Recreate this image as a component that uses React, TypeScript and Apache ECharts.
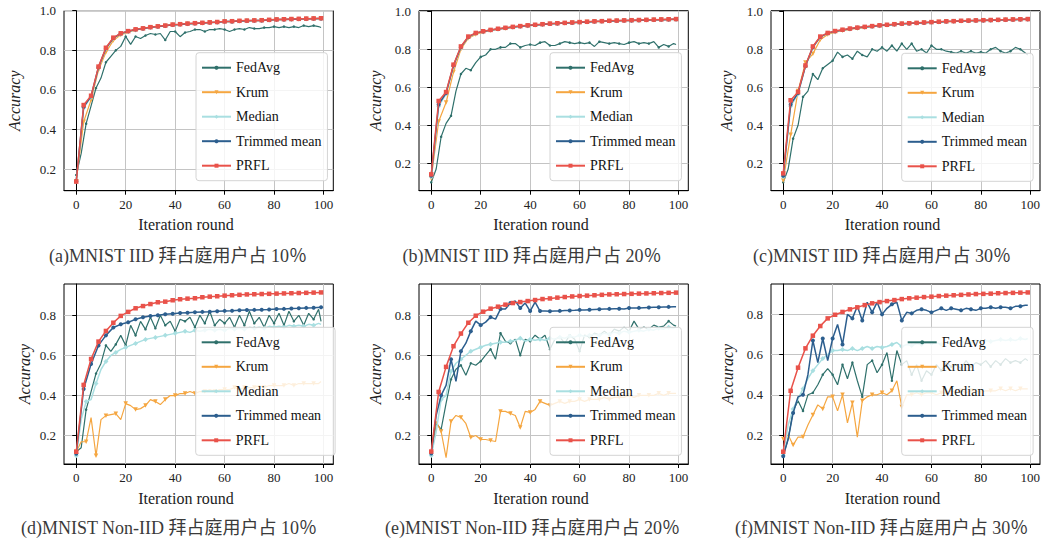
import React, { useEffect, useRef } from "react";
import * as echarts from "echarts";

// ---- iteration rounds ----
const X3 = [0, 3, 6, 9, 12, 15, 18, 21, 24, 27, 30, 33, 36, 39, 42, 45, 48, 51, 54, 57, 60, 63, 66, 69, 72, 75, 78, 81, 84, 87, 90, 93, 96, 99];
const X2 = [0, 2, 4, 6, 8, 10, 12, 14, 16, 18, 20, 22, 24, 26, 28, 30, 32, 34, 36, 38, 40, 42, 44, 46, 48, 50, 52, 54, 56, 58, 60, 62, 64, 66, 68, 70, 72, 74, 76, 78, 80, 82, 84, 86, 88, 90, 92, 94, 96, 98, 99];

const X_TICKS = [0, 20, 40, 60, 80, 100];
const Y_TICKS_TOP = [0.2, 0.4, 0.6, 0.8, 1.0];
const Y_TICKS_BOTTOM = [0.2, 0.4, 0.6, 0.8];

const METHODS = ["FedAvg", "Krum", "Median", "Trimmed mean", "PRFL"];

const CAPTIONS = [
  "(a)MNIST IID 拜占庭用户占 10％",
  "(b)MNIST IID 拜占庭用户占 20％",
  "(c)MNIST IID 拜占庭用户占 30％",
  "(d)MNIST Non-IID 拜占庭用户占 10％",
  "(e)MNIST Non-IID 拜占庭用户占 20％",
  "(f)MNIST Non-IID 拜占庭用户占 30％",
];

// ---- (a) MNIST IID 10% ----
const aFedAvg = [
  0.171, 0.28, 0.43, 0.52, 0.61, 0.66, 0.74, 0.77, 0.8, 0.82,
  0.87, 0.83, 0.87, 0.86, 0.875, 0.885, 0.88, 0.885, 0.852, 0.895,
  0.895, 0.869, 0.89, 0.895, 0.905, 0.905, 0.895, 0.905, 0.905, 0.91,
  0.905, 0.895, 0.905, 0.91, 0.905, 0.915, 0.91, 0.91, 0.915, 0.915,
  0.92, 0.915, 0.92, 0.915, 0.92, 0.915, 0.925, 0.92, 0.925, 0.92,
  0.915,
];
const aKrum = [0.14, 0.44, 0.55, 0.7, 0.79, 0.85, 0.878, 0.892, 0.902, 0.909, 0.915, 0.919, 0.923, 0.928, 0.93, 0.933, 0.935, 0.937, 0.94, 0.942, 0.944, 0.945, 0.947, 0.948, 0.949, 0.95, 0.952, 0.954, 0.955, 0.956, 0.957, 0.958, 0.959, 0.96];
const aMedian = [0.14, 0.51, 0.565, 0.712, 0.808, 0.861, 0.884, 0.895, 0.904, 0.91, 0.916, 0.92, 0.924, 0.929, 0.931, 0.934, 0.936, 0.938, 0.94, 0.942, 0.945, 0.946, 0.948, 0.949, 0.95, 0.951, 0.953, 0.955, 0.956, 0.957, 0.958, 0.959, 0.96, 0.961];
const aTrimmed = [0.14, 0.515, 0.568, 0.715, 0.81, 0.862, 0.885, 0.896, 0.905, 0.91, 0.916, 0.92, 0.924, 0.929, 0.931, 0.934, 0.936, 0.938, 0.94, 0.942, 0.945, 0.946, 0.948, 0.949, 0.95, 0.951, 0.953, 0.955, 0.956, 0.957, 0.958, 0.959, 0.96, 0.961];
const aPRFL = [0.138, 0.524, 0.571, 0.718, 0.813, 0.864, 0.886, 0.897, 0.906, 0.911, 0.917, 0.921, 0.925, 0.93, 0.932, 0.935, 0.937, 0.939, 0.941, 0.943, 0.946, 0.947, 0.949, 0.95, 0.951, 0.952, 0.954, 0.956, 0.957, 0.958, 0.959, 0.96, 0.961, 0.962];

// ---- (b) MNIST IID 20% ----
const bFedAvg = [
  0.1, 0.17, 0.34, 0.41, 0.45, 0.58, 0.67, 0.7, 0.69, 0.73,
  0.76, 0.77, 0.8, 0.8, 0.81, 0.81, 0.83, 0.83, 0.81, 0.82,
  0.825, 0.82, 0.835, 0.84, 0.82, 0.82, 0.83, 0.84, 0.835, 0.83,
  0.835, 0.83, 0.835, 0.815, 0.84, 0.835, 0.83, 0.835, 0.83, 0.825,
  0.835, 0.84, 0.83, 0.835, 0.83, 0.84, 0.81, 0.825, 0.815, 0.83,
  0.825,
];
const bKrum = [0.12, 0.42, 0.52, 0.68, 0.8, 0.858, 0.878, 0.89, 0.898, 0.905, 0.91, 0.915, 0.919, 0.923, 0.927, 0.93, 0.933, 0.935, 0.937, 0.939, 0.941, 0.943, 0.945, 0.946, 0.948, 0.949, 0.95, 0.951, 0.952, 0.953, 0.954, 0.955, 0.956, 0.957];
const bMedian = [0.13, 0.5, 0.565, 0.712, 0.81, 0.864, 0.884, 0.893, 0.9, 0.906, 0.912, 0.916, 0.92, 0.924, 0.928, 0.931, 0.934, 0.936, 0.938, 0.94, 0.942, 0.944, 0.946, 0.947, 0.949, 0.95, 0.951, 0.952, 0.953, 0.954, 0.955, 0.956, 0.957, 0.958];
const bTrimmed = [0.135, 0.51, 0.57, 0.715, 0.812, 0.865, 0.885, 0.894, 0.901, 0.907, 0.912, 0.917, 0.921, 0.925, 0.928, 0.931, 0.934, 0.936, 0.938, 0.94, 0.942, 0.944, 0.946, 0.947, 0.949, 0.95, 0.951, 0.952, 0.953, 0.954, 0.955, 0.956, 0.957, 0.958];
const bPRFL = [0.142, 0.528, 0.575, 0.719, 0.815, 0.867, 0.886, 0.895, 0.902, 0.908, 0.913, 0.918, 0.922, 0.926, 0.929, 0.932, 0.935, 0.937, 0.939, 0.941, 0.943, 0.945, 0.947, 0.948, 0.95, 0.951, 0.952, 0.953, 0.954, 0.955, 0.956, 0.957, 0.958, 0.959];

// ---- (c) MNIST IID 30% ----
const cFedAvg = [
  0.1, 0.17, 0.33, 0.4, 0.55, 0.58, 0.67, 0.64, 0.7, 0.72,
  0.74, 0.785, 0.76, 0.77, 0.75, 0.79, 0.77, 0.76, 0.8, 0.79,
  0.81, 0.79, 0.82, 0.79, 0.83, 0.8, 0.83, 0.79, 0.8, 0.78,
  0.82, 0.8, 0.8, 0.79, 0.785, 0.78, 0.79, 0.78, 0.79, 0.78,
  0.785, 0.78, 0.8, 0.81, 0.79, 0.78, 0.79, 0.81, 0.8, 0.78,
  0.77,
];
const cKrum = [0.11, 0.35, 0.58, 0.73, 0.776, 0.85, 0.878, 0.89, 0.898, 0.905, 0.91, 0.913, 0.919, 0.923, 0.927, 0.93, 0.933, 0.935, 0.937, 0.939, 0.941, 0.943, 0.945, 0.946, 0.948, 0.949, 0.95, 0.951, 0.952, 0.953, 0.954, 0.955, 0.956, 0.957];
const cMedian = [0.13, 0.5, 0.565, 0.71, 0.81, 0.863, 0.884, 0.894, 0.901, 0.907, 0.912, 0.916, 0.92, 0.924, 0.928, 0.931, 0.934, 0.936, 0.938, 0.94, 0.942, 0.944, 0.946, 0.947, 0.949, 0.95, 0.951, 0.952, 0.953, 0.954, 0.955, 0.956, 0.957, 0.958];
const cTrimmed = [0.135, 0.51, 0.57, 0.712, 0.812, 0.865, 0.885, 0.895, 0.902, 0.908, 0.913, 0.917, 0.921, 0.925, 0.928, 0.931, 0.934, 0.936, 0.938, 0.94, 0.942, 0.944, 0.946, 0.947, 0.949, 0.95, 0.951, 0.952, 0.953, 0.954, 0.955, 0.956, 0.957, 0.958];
const cPRFL = [0.147, 0.532, 0.575, 0.715, 0.815, 0.867, 0.886, 0.896, 0.903, 0.909, 0.914, 0.918, 0.922, 0.926, 0.929, 0.932, 0.935, 0.937, 0.939, 0.941, 0.943, 0.945, 0.947, 0.948, 0.95, 0.951, 0.952, 0.953, 0.954, 0.955, 0.956, 0.957, 0.958, 0.959];

// ---- (d) MNIST Non-IID 10% ----
const dFedAvg = [
  0.12, 0.14, 0.33, 0.42, 0.51, 0.56, 0.65, 0.62, 0.655, 0.7,
  0.65, 0.75, 0.7, 0.77, 0.73, 0.79, 0.735, 0.8, 0.75, 0.77,
  0.72, 0.78, 0.77, 0.79, 0.74, 0.8, 0.76, 0.82, 0.75, 0.78,
  0.76, 0.79, 0.74, 0.8, 0.75, 0.82, 0.76, 0.79, 0.74, 0.8,
  0.76, 0.81, 0.75, 0.82, 0.77, 0.8, 0.75, 0.81, 0.78, 0.83,
  0.77,
];
const dKrum = [
  0.12, 0.17, 0.17, 0.29, 0.1, 0.28, 0.3, 0.305, 0.31, 0.28,
  0.36, 0.35, 0.33, 0.335, 0.35, 0.38, 0.37, 0.355, 0.38, 0.4,
  0.4, 0.41, 0.41, 0.42, 0.41, 0.42, 0.42, 0.43, 0.42, 0.43,
  0.43, 0.43, 0.44, 0.43, 0.44, 0.44, 0.44, 0.45, 0.44, 0.45,
  0.45, 0.45, 0.45, 0.46, 0.45, 0.46, 0.46, 0.46, 0.46, 0.46,
  0.47,
];
const dMedian = [
  0.1, 0.28, 0.37, 0.38, 0.46, 0.53, 0.57, 0.6, 0.615, 0.63,
  0.64, 0.65, 0.66, 0.67, 0.68, 0.685, 0.69, 0.695, 0.7, 0.705,
  0.71, 0.715, 0.72, 0.715, 0.725, 0.72, 0.725, 0.73, 0.725, 0.73,
  0.725, 0.735, 0.73, 0.735, 0.73, 0.74, 0.735, 0.74, 0.735, 0.745,
  0.74, 0.745, 0.74, 0.75, 0.745, 0.75, 0.745, 0.755, 0.75, 0.76,
  0.755,
];
const dTrimmed = [0.11, 0.433, 0.557, 0.65, 0.7, 0.739, 0.755, 0.765, 0.78, 0.79, 0.797, 0.8, 0.805, 0.808, 0.811, 0.813, 0.815, 0.817, 0.818, 0.82, 0.822, 0.823, 0.825, 0.826, 0.827, 0.828, 0.829, 0.831, 0.832, 0.834, 0.835, 0.837, 0.838, 0.84];
const dPRFL = [0.12, 0.453, 0.582, 0.669, 0.722, 0.763, 0.797, 0.817, 0.835, 0.846, 0.856, 0.865, 0.868, 0.875, 0.88, 0.883, 0.885, 0.89, 0.893, 0.895, 0.898, 0.9, 0.902, 0.904, 0.905, 0.906, 0.907, 0.908, 0.909, 0.91, 0.911, 0.912, 0.913, 0.914];

// ---- (e) MNIST Non-IID 20% ----
const eFedAvg = [
  0.1, 0.26, 0.23, 0.36, 0.48, 0.53, 0.55, 0.5, 0.56, 0.55,
  0.57, 0.6, 0.63, 0.58, 0.71, 0.67, 0.66, 0.68, 0.6, 0.68,
  0.67, 0.7, 0.68, 0.7, 0.63, 0.68, 0.69, 0.66, 0.7, 0.68,
  0.62, 0.7, 0.69, 0.71, 0.7, 0.72, 0.7, 0.73, 0.72, 0.74,
  0.72, 0.77, 0.73, 0.74, 0.73, 0.75, 0.74, 0.745, 0.77, 0.75,
  0.745,
];
const eKrum = [
  0.11, 0.27, 0.22, 0.09, 0.27, 0.3, 0.29, 0.26, 0.19, 0.2,
  0.18, 0.18, 0.175, 0.17, 0.32, 0.32, 0.31, 0.3, 0.24, 0.32,
  0.315, 0.33, 0.37, 0.36, 0.35, 0.36, 0.37, 0.36, 0.37, 0.37,
  0.38, 0.37, 0.38, 0.38, 0.38, 0.39, 0.38, 0.39, 0.39, 0.39,
  0.4, 0.39, 0.4, 0.4, 0.4, 0.4, 0.41, 0.4, 0.41, 0.41,
  0.41,
];
const eMedian = [
  0.1, 0.22, 0.38, 0.4, 0.52, 0.56, 0.58, 0.6, 0.62, 0.63,
  0.64, 0.65, 0.655, 0.66, 0.665, 0.665, 0.67, 0.675, 0.685, 0.67,
  0.68, 0.675, 0.68, 0.675, 0.685, 0.68, 0.69, 0.685, 0.695, 0.69,
  0.7, 0.695, 0.7, 0.705, 0.7, 0.71, 0.705, 0.715, 0.71, 0.72,
  0.715, 0.72, 0.725, 0.72, 0.73, 0.725, 0.735, 0.73, 0.74, 0.735,
  0.74,
];
const eTrimmed = [
  0.11, 0.3, 0.4, 0.45, 0.58, 0.47, 0.62, 0.66, 0.72, 0.77,
  0.75, 0.765, 0.79, 0.78, 0.83, 0.83, 0.86, 0.87, 0.835, 0.86,
  0.82, 0.865, 0.82, 0.82, 0.819, 0.82, 0.821, 0.823, 0.823, 0.824,
  0.826, 0.826, 0.827, 0.828, 0.829, 0.83, 0.831, 0.832, 0.832, 0.83,
  0.835, 0.836, 0.836, 0.837, 0.838, 0.839, 0.839, 0.84, 0.841, 0.842,
  0.842,
];
const ePRFL = [0.12, 0.417, 0.542, 0.645, 0.708, 0.762, 0.797, 0.817, 0.832, 0.842, 0.852, 0.86, 0.865, 0.87, 0.875, 0.88, 0.883, 0.887, 0.89, 0.893, 0.895, 0.897, 0.899, 0.901, 0.903, 0.904, 0.905, 0.906, 0.907, 0.908, 0.909, 0.91, 0.911, 0.912];

// ---- (f) MNIST Non-IID 30% ----
const fFedAvg = [
  0.1, 0.18, 0.32, 0.37, 0.32, 0.4, 0.41, 0.45, 0.5, 0.53,
  0.5, 0.45, 0.55, 0.48, 0.56, 0.47, 0.39, 0.55, 0.57, 0.51,
  0.55, 0.61, 0.47, 0.62, 0.55, 0.57, 0.5, 0.55, 0.47, 0.52,
  0.5, 0.55, 0.52, 0.56, 0.54, 0.55, 0.53, 0.57, 0.54, 0.56,
  0.55, 0.57, 0.54, 0.57, 0.55, 0.58, 0.56, 0.57, 0.56, 0.58,
  0.57,
];
const fKrum = [
  0.18, 0.2, 0.15, 0.19, 0.19, 0.25, 0.3, 0.35, 0.33, 0.39,
  0.39, 0.32, 0.4, 0.26, 0.36, 0.19, 0.37, 0.39, 0.4, 0.4,
  0.41, 0.4, 0.42, 0.47, 0.34, 0.4, 0.4, 0.41, 0.4, 0.41,
  0.41, 0.4, 0.41, 0.41, 0.42, 0.41, 0.42, 0.41, 0.42, 0.42,
  0.41, 0.42, 0.42, 0.42, 0.43, 0.42, 0.43, 0.42, 0.43, 0.43,
  0.43,
];
const fMedian = [
  0.1, 0.25, 0.33, 0.38, 0.43, 0.48, 0.52, 0.55, 0.58, 0.6,
  0.62, 0.62, 0.625, 0.62, 0.63, 0.62, 0.63, 0.64, 0.63, 0.64,
  0.635, 0.64, 0.65, 0.66, 0.64, 0.65, 0.645, 0.655, 0.65, 0.66,
  0.655, 0.66, 0.65, 0.66, 0.655, 0.665, 0.66, 0.665, 0.66, 0.67,
  0.665, 0.67, 0.665, 0.67, 0.675, 0.67, 0.675, 0.67, 0.68, 0.675,
  0.68,
];
const fTrimmed = [
  0.095, 0.18, 0.31, 0.39, 0.4, 0.5, 0.67, 0.56, 0.68, 0.57,
  0.68, 0.75, 0.65, 0.8, 0.78, 0.84, 0.77, 0.86, 0.81, 0.86,
  0.8, 0.83, 0.85, 0.86, 0.77, 0.81, 0.805, 0.82, 0.825, 0.82,
  0.81, 0.82, 0.83, 0.82, 0.83, 0.825, 0.82, 0.83, 0.825, 0.82,
  0.83, 0.83, 0.835, 0.83, 0.835, 0.835, 0.83, 0.84, 0.84, 0.845,
  0.845,
];
const fPRFL = [0.117, 0.42, 0.535, 0.631, 0.694, 0.742, 0.78, 0.798, 0.812, 0.825, 0.835, 0.846, 0.855, 0.861, 0.866, 0.871, 0.876, 0.88, 0.883, 0.886, 0.888, 0.891, 0.893, 0.895, 0.897, 0.899, 0.901, 0.902, 0.903, 0.905, 0.906, 0.907, 0.908, 0.909];

// [x-values, y-values] for each method in each panel
const PANEL_DATA: [number[], number[]][][] = [
  [[X2, aFedAvg], [X3, aKrum], [X3, aMedian], [X3, aTrimmed], [X3, aPRFL]],
  [[X2, bFedAvg], [X3, bKrum], [X3, bMedian], [X3, bTrimmed], [X3, bPRFL]],
  [[X2, cFedAvg], [X3, cKrum], [X3, cMedian], [X3, cTrimmed], [X3, cPRFL]],
  [[X2, dFedAvg], [X2, dKrum], [X2, dMedian], [X3, dTrimmed], [X3, dPRFL]],
  [[X2, eFedAvg], [X2, eKrum], [X2, eMedian], [X2, eTrimmed], [X3, ePRFL]],
  [[X2, fFedAvg], [X2, fKrum], [X2, fMedian], [X2, fTrimmed], [X3, fPRFL]],
];

// ---- layout & styles ----
const LAYOUT = [
  { left: 64, top: 10.7, width: 269.3, ymin: 0.092, ymax: 1.0, yt: Y_TICKS_TOP, lg: [196, 52.7], lgPadR: 6, acc: [14, 100.7], xt: [186, 224], cap: [178, 256] },
  { left: 419, top: 10.7, width: 269.3, ymin: 0.056, ymax: 1.003, yt: Y_TICKS_TOP, lg: [550, 52.7], lgPadR: 6, acc: [375, 100.7], xt: [541, 224], cap: [532, 256] },
  { left: 771, top: 10.7, width: 269, ymin: 0.056, ymax: 1.003, yt: Y_TICKS_TOP, lg: [901.7, 53.3], lgPadR: 6, acc: [726, 100.7], xt: [892.5, 224], cap: [882, 256] },
  { left: 64, top: 284, width: 269.3, ymin: 0.059, ymax: 0.956, yt: Y_TICKS_BOTTOM, lg: [195.7, 327.3], lgPadR: 14, acc: [24, 374], xt: [186, 498.7], cap: [169, 528] },
  { left: 419, top: 284, width: 269.3, ymin: 0.058, ymax: 0.955, yt: Y_TICKS_BOTTOM, lg: [550, 327.3], lgPadR: 6, acc: [375, 374], xt: [541, 498.7], cap: [532.5, 528] },
  { left: 771, top: 284, width: 269, ymin: 0.056, ymax: 0.951, yt: Y_TICKS_BOTTOM, lg: [901.7, 327.3], lgPadR: 6, acc: [727, 374], xt: [892.5, 498.7], cap: [881.7, 528] },
];
const GRID_H = 180;

const STYLE: Record<string, { color: string; symbol: string; size: number; rotate?: number; width: number }> = {
  FedAvg: { color: "#2f706b", symbol: "circle", size: 2.5, width: 1.2 },
  Krum: { color: "#f5a640", symbol: "triangle", size: 4.5, rotate: 180, width: 1.2 },
  Median: { color: "#a9dfe1", symbol: "diamond", size: 5, width: 1.5 },
  "Trimmed mean": { color: "#2c5e8e", symbol: "circle", size: 4, width: 1.5 },
  PRFL: { color: "#e9524a", symbol: "rect", size: 4.5, width: 1.5 },
};

const SERIF = '"Liberation Serif", "Noto Sans CJK SC", serif';

function lineData(xs: number[], ys: number[]) {
  const dense = xs === X2;
  return xs.map((x, i) => {
    const marked = dense ? x % 4 === 0 : true;
    return marked ? [x, ys[i]] : { value: [x, ys[i]], symbol: "none" };
  });
}

function buildOption() {
  const grid: any[] = [];
  const xAxis: any[] = [];
  const yAxis: any[] = [];
  const legend: any[] = [];
  const series: any[] = [];
  const graphic: any[] = [];

  LAYOUT.forEach((L, p) => {
    grid.push({
      left: L.left, top: L.top, width: L.width, height: GRID_H,
      show: true, borderColor: "#000", borderWidth: 1, backgroundColor: "transparent",
      containLabel: false,
    });
    xAxis.push({
      type: "value", gridIndex: p, min: -4.95, max: 103.95,
      axisLine: { show: true, lineStyle: { color: "#000", width: 1 } },
      axisTick: { show: true, inside: false, length: 4, lineStyle: { color: "#000" }, customValues: X_TICKS },
      axisLabel: { customValues: X_TICKS, margin: 7, fontSize: 13, color: "#222", fontFamily: SERIF },
      splitLine: { show: true, lineStyle: { color: "#c4c4c4", width: 1 } },
    });
    yAxis.push({
      type: "value", gridIndex: p, min: L.ymin, max: L.ymax,
      axisLine: { show: true, lineStyle: { color: "#000", width: 1 } },
      axisTick: { show: true, inside: false, length: 4, lineStyle: { color: "#000" }, customValues: L.yt },
      axisLabel: {
        customValues: L.yt, margin: 8, fontSize: 13, color: "#222", fontFamily: SERIF,
        formatter: (v: number) => v.toFixed(1),
      },
      splitLine: { show: true, lineStyle: { color: "#c4c4c4", width: 1 } },
    });
    legend.push({
      orient: "vertical", left: L.lg[0], top: L.lg[1],
      data: METHODS, selectedMode: false,
      padding: [8, L.lgPadR, 8, 5], itemWidth: 29, itemHeight: 5, itemGap: 10.5,
      backgroundColor: "rgba(255,255,255,0.82)", borderColor: "#d4d4d4", borderWidth: 1, borderRadius: 3,
      textStyle: { fontFamily: SERIF, fontSize: 14, color: "#111", lineHeight: 14 },
    });
    METHODS.forEach((m, k) => {
      const [xs, ys] = PANEL_DATA[p][k];
      const s = STYLE[m];
      series.push({
        type: "line", name: m, xAxisIndex: p, yAxisIndex: p,
        data: lineData(xs, ys),
        symbol: s.symbol, symbolSize: s.size, symbolRotate: s.rotate || 0,
        showSymbol: true, showAllSymbol: true,
        lineStyle: { color: s.color, width: s.width },
        itemStyle: { color: s.color },
        emphasis: { disabled: true },
        z: 2 + k * 0.1,
      });
    });
    graphic.push({
      type: "text", x: L.acc[0], y: L.acc[1], rotation: Math.PI / 2,
      style: { text: "Accuracy", fontFamily: SERIF, fontStyle: "italic", fontSize: 16, fill: "#222", textAlign: "center", textVerticalAlign: "middle" },
    });
    graphic.push({
      type: "text", x: L.xt[0], y: L.xt[1],
      style: { text: "Iteration round", fontFamily: SERIF, fontSize: 16, fill: "#222", textAlign: "center", textVerticalAlign: "middle" },
    });
    graphic.push({
      type: "text", x: L.cap[0], y: L.cap[1],
      style: { text: CAPTIONS[p], fontFamily: SERIF, fontSize: 18, fill: "#3a3a3a", textAlign: "center", textVerticalAlign: "middle" },
    });
  });

  return {
    animation: false,
    backgroundColor: "#fff",
    grid, xAxis, yAxis, legend, series, graphic,
  };
}

export default function App() {
  const ref = useRef<HTMLDivElement>(null);
  useEffect(() => {
    if (!ref.current) return;
    const chart = echarts.init(ref.current, null, { renderer: "svg" });
    chart.setOption(buildOption() as any);
    return () => chart.dispose();
  }, []);
  return (
    <div
      ref={ref}
      style={{ position: "absolute", left: 0, top: 0, width: 1047, height: 542, background: "#fff" }}
    />
  );
}
